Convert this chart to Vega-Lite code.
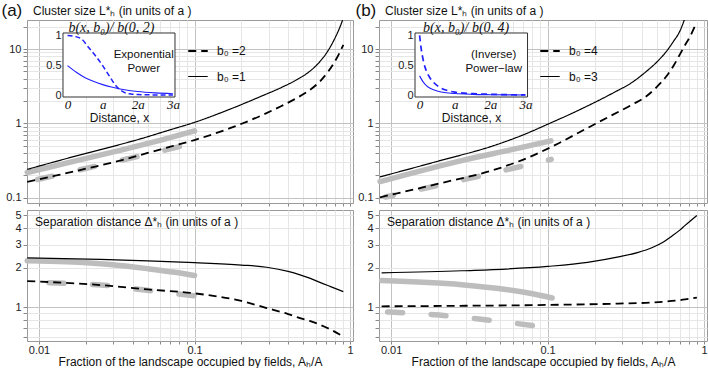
{
"$schema": "https://vega.github.io/schema/vega-lite/v6.json",
"padding": {"left": 0, "top": 0, "right": 0, "bottom": 0},
"config": {
 "font": "Liberation Sans",
 "view": {"stroke": "#9a9a9a", "strokeWidth": 1},
 "axis": {"labelFont": "Liberation Sans", "labelFontSize": 11, "labelColor": "#222", "titleFont": "Liberation Sans", "titleFontWeight": "normal", "titleColor": "#111", "tickColor": "#888", "domain": false, "labelOverlap": false, "labelFlush": false, "gridWidth": 1},
 "title": {"font": "Liberation Sans", "fontWeight": "normal", "fontSize": 12, "color": "#111", "anchor": "start", "frame": "group"},
 "legend": {"labelFont": "Liberation Sans"}
},
"datasets": {
 "aTop": [
  {"s":"b₀ =1","x":0.0084,"y":0.24},{"s":"b₀ =1","x":0.012,"y":0.295},{"s":"b₀ =1","x":0.02,"y":0.394},{"s":"b₀ =1","x":0.03,"y":0.49},{"s":"b₀ =1","x":0.046,"y":0.627},{"s":"b₀ =1","x":0.07,"y":0.82},{"s":"b₀ =1","x":0.1,"y":1.03},{"s":"b₀ =1","x":0.169,"y":1.55},{"s":"b₀ =1","x":0.277,"y":2.38},{"s":"b₀ =1","x":0.36,"y":3.02},{"s":"b₀ =1","x":0.454,"y":3.86},{"s":"b₀ =1","x":0.55,"y":5.0},{"s":"b₀ =1","x":0.641,"y":6.8},{"s":"b₀ =1","x":0.72,"y":9.4},{"s":"b₀ =1","x":0.781,"y":12.7},{"s":"b₀ =1","x":0.85,"y":18.5},{"s":"b₀ =1","x":0.906,"y":26},
  {"s":"b₀ =2","x":0.0084,"y":0.163},{"s":"b₀ =2","x":0.0127,"y":0.197},{"s":"b₀ =2","x":0.02,"y":0.245},{"s":"b₀ =2","x":0.0342,"y":0.32},{"s":"b₀ =2","x":0.05,"y":0.40},{"s":"b₀ =2","x":0.07,"y":0.485},{"s":"b₀ =2","x":0.1,"y":0.596},{"s":"b₀ =2","x":0.169,"y":0.86},{"s":"b₀ =2","x":0.277,"y":1.31},{"s":"b₀ =2","x":0.36,"y":1.7},{"s":"b₀ =2","x":0.454,"y":2.19},{"s":"b₀ =2","x":0.55,"y":2.8},{"s":"b₀ =2","x":0.641,"y":3.67},{"s":"b₀ =2","x":0.72,"y":4.9},{"s":"b₀ =2","x":0.781,"y":6.3},{"s":"b₀ =2","x":0.85,"y":8.6},{"s":"b₀ =2","x":0.906,"y":11.4},
  {"s":"grey solid","x":0.0084,"y":0.218},{"s":"grey solid","x":0.018,"y":0.32},{"s":"grey solid","x":0.0342,"y":0.44},{"s":"grey solid","x":0.06,"y":0.59},{"s":"grey solid","x":0.1,"y":0.79},
  {"s":"grey dashed","x":0.0098,"y":0.175},{"s":"grey dashed","x":0.03,"y":0.30},{"s":"grey dashed","x":0.085,"y":0.50}
 ],
 "aBot": [
  {"s":"b₀ =1","x":0.0084,"y":2.38},{"s":"b₀ =1","x":0.0247,"y":2.32},{"s":"b₀ =1","x":0.05,"y":2.26},{"s":"b₀ =1","x":0.1,"y":2.19},{"s":"b₀ =1","x":0.2,"y":2.1},{"s":"b₀ =1","x":0.291,"y":2.02},{"s":"b₀ =1","x":0.4,"y":1.88},{"s":"b₀ =1","x":0.477,"y":1.77},{"s":"b₀ =1","x":0.55,"y":1.67},{"s":"b₀ =1","x":0.64,"y":1.55},{"s":"b₀ =1","x":0.75,"y":1.44},{"s":"b₀ =1","x":0.905,"y":1.32},
  {"s":"b₀ =2","x":0.0084,"y":1.585},{"s":"b₀ =2","x":0.0247,"y":1.48},{"s":"b₀ =2","x":0.05,"y":1.37},{"s":"b₀ =2","x":0.1,"y":1.28},{"s":"b₀ =2","x":0.2,"y":1.12},{"s":"b₀ =2","x":0.291,"y":0.99},{"s":"b₀ =2","x":0.4,"y":0.89},{"s":"b₀ =2","x":0.477,"y":0.83},{"s":"b₀ =2","x":0.55,"y":0.79},{"s":"b₀ =2","x":0.64,"y":0.74},{"s":"b₀ =2","x":0.75,"y":0.68},{"s":"b₀ =2","x":0.905,"y":0.60},
  {"s":"grey solid","x":0.0084,"y":2.26},{"s":"grey solid","x":0.015,"y":2.22},{"s":"grey solid","x":0.0286,"y":2.12},{"s":"grey solid","x":0.05,"y":1.97},{"s":"grey solid","x":0.075,"y":1.85},{"s":"grey solid","x":0.1,"y":1.75},
  {"s":"grey dashed","x":0.0116,"y":1.54},{"s":"grey dashed","x":0.0251,"y":1.48},{"s":"grey dashed","x":0.048,"y":1.355},{"s":"grey dashed","x":0.102,"y":1.22}
 ],
 "bTop": [
  {"s":"b₀ =3","x":0.0085,"y":0.19},{"s":"b₀ =3","x":0.0206,"y":0.315},{"s":"b₀ =3","x":0.0452,"y":0.5},{"s":"b₀ =3","x":0.07,"y":0.7},{"s":"b₀ =3","x":0.1,"y":0.97},{"s":"b₀ =3","x":0.16,"y":1.52},{"s":"b₀ =3","x":0.262,"y":2.56},{"s":"b₀ =3","x":0.35,"y":3.6},{"s":"b₀ =3","x":0.428,"y":5.0},{"s":"b₀ =3","x":0.5,"y":6.7},{"s":"b₀ =3","x":0.575,"y":9.3},{"s":"b₀ =3","x":0.64,"y":12.8},{"s":"b₀ =3","x":0.7,"y":17.3},{"s":"b₀ =3","x":0.76,"y":27},
  {"s":"b₀ =4","x":0.0085,"y":0.101},{"s":"b₀ =4","x":0.0206,"y":0.156},{"s":"b₀ =4","x":0.0452,"y":0.235},{"s":"b₀ =4","x":0.075,"y":0.345},{"s":"b₀ =4","x":0.118,"y":0.54},{"s":"b₀ =4","x":0.16,"y":0.76},{"s":"b₀ =4","x":0.262,"y":1.31},{"s":"b₀ =4","x":0.35,"y":1.8},{"s":"b₀ =4","x":0.428,"y":2.31},{"s":"b₀ =4","x":0.5,"y":3.1},{"s":"b₀ =4","x":0.575,"y":4.3},{"s":"b₀ =4","x":0.64,"y":6.0},{"s":"b₀ =4","x":0.7,"y":8.4},{"s":"b₀ =4","x":0.76,"y":11.5},{"s":"b₀ =4","x":0.811,"y":14.5},{"s":"b₀ =4","x":0.893,"y":22.4},
  {"s":"grey solid","x":0.0085,"y":0.164},{"s":"grey solid","x":0.0291,"y":0.32},{"s":"grey solid","x":0.06,"y":0.446},{"s":"grey solid","x":0.105,"y":0.58},
  {"s":"grey dashed","x":0.00922,"y":0.102},{"s":"grey dashed","x":0.035,"y":0.19},{"s":"grey dashed","x":0.1055,"y":0.327}
 ],
 "bBot": [
  {"s":"b₀ =3","x":0.0087,"y":1.83},{"s":"b₀ =3","x":0.0282,"y":1.9},{"s":"b₀ =3","x":0.1,"y":2.05},{"s":"b₀ =3","x":0.18,"y":2.2},{"s":"b₀ =3","x":0.284,"y":2.42},{"s":"b₀ =3","x":0.38,"y":2.62},{"s":"b₀ =3","x":0.464,"y":2.84},{"s":"b₀ =3","x":0.55,"y":3.14},{"s":"b₀ =3","x":0.622,"y":3.48},{"s":"b₀ =3","x":0.7,"y":3.87},{"s":"b₀ =3","x":0.757,"y":4.2},{"s":"b₀ =3","x":0.9,"y":5.0},
  {"s":"b₀ =4","x":0.0087,"y":1.02},{"s":"b₀ =4","x":0.03,"y":1.03},{"s":"b₀ =4","x":0.1,"y":1.045},{"s":"b₀ =4","x":0.284,"y":1.07},{"s":"b₀ =4","x":0.464,"y":1.09},{"s":"b₀ =4","x":0.622,"y":1.12},{"s":"b₀ =4","x":0.757,"y":1.15},{"s":"b₀ =4","x":0.9,"y":1.19},
  {"s":"grey solid","x":0.0087,"y":1.6},{"s":"grey solid","x":0.0282,"y":1.49},{"s":"grey solid","x":0.054,"y":1.37},{"s":"grey solid","x":0.08,"y":1.27},{"s":"grey solid","x":0.107,"y":1.18},
  {"s":"grey dashed","x":0.0095,"y":0.925},{"s":"grey dashed","x":0.0203,"y":0.875},{"s":"grey dashed","x":0.0389,"y":0.81},{"s":"grey dashed","x":0.0827,"y":0.725}
 ],
 "insetA": [
  {"s":"d","x":0,"y":1.0},{"s":"d","x":0.2,"y":0.985},{"s":"d","x":0.4,"y":0.94},{"s":"d","x":0.6,"y":0.8},{"s":"d","x":0.8,"y":0.66},{"s":"d","x":1.0,"y":0.5},{"s":"d","x":1.2,"y":0.32},{"s":"d","x":1.4,"y":0.15},{"s":"d","x":1.6,"y":0.06},{"s":"d","x":1.8,"y":0.03},{"s":"d","x":2.0,"y":0.02},{"s":"d","x":2.5,"y":0.015},{"s":"d","x":3.0,"y":0.015},
  {"s":"s","x":0,"y":0.5},{"s":"s","x":0.25,"y":0.39},{"s":"s","x":0.5,"y":0.3},{"s":"s","x":0.75,"y":0.235},{"s":"s","x":1.0,"y":0.185},{"s":"s","x":1.25,"y":0.145},{"s":"s","x":1.5,"y":0.113},{"s":"s","x":1.75,"y":0.088},{"s":"s","x":2.0,"y":0.07},{"s":"s","x":2.5,"y":0.048},{"s":"s","x":3.0,"y":0.035}
 ],
 "insetB": [
  {"s":"d","x":0,"y":1.0},{"s":"d","x":0.05,"y":0.76},{"s":"d","x":0.1,"y":0.6},{"s":"d","x":0.15,"y":0.48},{"s":"d","x":0.2,"y":0.4},{"s":"d","x":0.3,"y":0.29},{"s":"d","x":0.4,"y":0.22},{"s":"d","x":0.6,"y":0.13},{"s":"d","x":0.8,"y":0.085},{"s":"d","x":1.0,"y":0.06},{"s":"d","x":1.5,"y":0.035},{"s":"d","x":2.0,"y":0.025},{"s":"d","x":2.5,"y":0.018},{"s":"d","x":3.0,"y":0.015},
  {"s":"s","x":0,"y":0.33},{"s":"s","x":0.1,"y":0.23},{"s":"s","x":0.2,"y":0.165},{"s":"s","x":0.3,"y":0.125},{"s":"s","x":0.5,"y":0.08},{"s":"s","x":0.75,"y":0.05},{"s":"s","x":1.0,"y":0.037},{"s":"s","x":1.5,"y":0.024},{"s":"s","x":2.0,"y":0.018},{"s":"s","x":3.0,"y":0.012}
 ]
},
"hconcat": [
 {"vconcat": [
  {
   "width": 326, "height": 183,
   "title": {"text": "Cluster size  L*ₕ (in units of a )", "dx": 6, "offset": -17, "frame": "group"},
   "layer": [
    {
     "data": {"name": "aTop"},
     "encoding": {
      "x": {"field": "x", "type": "quantitative", "scale": {"type": "log", "domain": [0.00837, 1.045], "nice": false},
            "axis": {"values": [0.01,0.02,0.03,0.04,0.05,0.06,0.07,0.08,0.09,0.1,0.2,0.3,0.4,0.5,0.6,0.7,0.8,0.9,1], "labels": false, "title": null, "tickSize": 3,
                     "gridColor": {"condition": {"test": "abs(log(datum.value)/LN10 - round(log(datum.value)/LN10)) < 0.0001", "value": "#c2c2c2"}, "value": "#e6e6e6"}}},
      "y": {"field": "y", "type": "quantitative", "scale": {"type": "log", "domain": [0.0846, 24.6], "nice": false},
            "axis": {"values": [0.1,0.2,0.3,0.4,0.5,0.6,0.7,0.8,0.9,1,2,3,4,5,6,7,8,9,10,20], "labelExpr": "abs(log(datum.value)/LN10 - round(log(datum.value)/LN10)) < 0.0001 ? format(datum.value, '~g') : ''", "tickSize": 4, "labelPadding": 2,
                     "gridColor": {"condition": {"test": "abs(log(datum.value)/LN10 - round(log(datum.value)/LN10)) < 0.0001", "value": "#c2c2c2"}, "value": "#e6e6e6"},
                     "title": "(a)", "titleAngle": 0, "titleX": -26, "titleY": -10, "titleAlign": "left", "titleBaseline": "middle", "titleFontSize": 17}}
     },
     "layer": [
      {"transform": [{"filter": "datum.s == 'grey solid'"}], "mark": {"type": "line", "color": "#bdbdbd", "strokeWidth": 5.5, "strokeCap": "round"}},
      {"transform": [{"filter": "datum.s == 'grey dashed'"}], "mark": {"type": "line", "color": "#bdbdbd", "strokeWidth": 5.5, "strokeCap": "round", "strokeDash": [15, 28.5]}},
      {"transform": [{"filter": "datum.s == 'b₀ =1' || datum.s == 'b₀ =2'"}], "mark": {"type": "line", "color": "black", "clip": true, "interpolate": "monotone"},
       "encoding": {
        "strokeDash": {"field": "s", "type": "nominal", "scale": {"domain": ["b₀ =2", "b₀ =1"], "range": [[8,5],[1,0]]},
                       "legend": {"orient": "none", "legendX": 160, "legendY": 20, "title": null, "symbolType": "stroke", "symbolSize": 380, "symbolStrokeWidth": 1.6, "symbolStrokeColor": "black", "labelFontSize": 12, "labelOffset": 8, "rowPadding": 9, "padding": 0, "labelColor": "#111"}},
        "strokeWidth": {"field": "s", "type": "nominal", "scale": {"domain": ["b₀ =2", "b₀ =1"], "range": [1.8, 1.2]}, "legend": null}
       }}
     ]
    },
    {
     "data": {"name": "insetA"},
     "layer": [
      {"transform": [{"filter": "datum.s == 's' && datum.x == 0"}], "mark": {"type": "rect", "fill": "white", "stroke": "#333", "strokeWidth": 1},
       "encoding": {"x": {"datum": -0.13, "type": "quantitative", "scale": {"domain": [-1.155, 8.13], "nice": false, "zero": false}}, "x2": {"datum": 3.06},
                    "y": {"datum": -0.02, "type": "quantitative", "scale": {"domain": [-1.7756, 1.2553], "nice": false, "zero": false}}, "y2": {"datum": 1.04}}},
      {"transform": [{"filter": "datum.s == 's'"}], "mark": {"type": "line", "color": "#1f1fff", "strokeWidth": 1.1, "interpolate": "monotone"},
       "encoding": {
        "x": {"field": "x", "type": "quantitative", "scale": {"domain": [-1.155, 8.13], "nice": false, "zero": false},
              "axis": {"orient": "bottom", "offset": -106, "values": [0,1,2,3], "labelExpr": "datum.value == 0 ? '0' : (datum.value == 1 ? 'a' : datum.value + 'a')", "labelFont": "Liberation Serif", "labelFontStyle": "italic", "labelFontSize": 13, "labelColor": "#111", "labelPadding": 1, "grid": false, "ticks": false, "title": "Distance, x", "titleFontSize": 12, "titleX": 92, "titleY": 20, "titleAlign": "center", "titleBaseline": "middle", "zindex": 2}},
        "y": {"field": "y", "type": "quantitative", "scale": {"domain": [-1.7756, 1.2553], "nice": false, "zero": false},
              "axis": {"orient": "left", "offset": -36, "values": [0, 0.5, 1], "format": "~g", "grid": false, "ticks": false, "labelPadding": 2, "title": null, "zindex": 2}}
       }},
      {"transform": [{"filter": "datum.s == 'd'"}], "mark": {"type": "line", "color": "#1f1fff", "strokeWidth": 1.5, "strokeDash": [5, 3], "interpolate": "monotone"},
       "encoding": {"x": {"field": "x", "type": "quantitative"}, "y": {"field": "y", "type": "quantitative"}}},
      {"transform": [{"filter": "datum.s == 's' && datum.x == 0"}], "mark": {"type": "text", "text": ["Exponential", "Power"], "fontSize": 11.5, "lineHeight": 14, "align": "center", "baseline": "middle", "color": "#111"},
       "encoding": {"x": {"datum": 2.17, "type": "quantitative"}, "y": {"datum": 0.68, "type": "quantitative"}}},
      {"transform": [{"filter": "datum.s == 's' && datum.x == 0"}], "mark": {"type": "text", "text": "b(x, b₀)/ b(0, 2)", "font": "Liberation Serif", "fontStyle": "italic", "fontSize": 14, "align": "center", "baseline": "middle", "color": "#111"},
       "encoding": {"x": {"datum": 1.25, "type": "quantitative"}, "y": {"datum": 1.12, "type": "quantitative"}}}
     ]
    }
   ],
   "resolve": {"scale": {"x": "independent", "y": "independent"}}
  },
  {
   "width": 326, "height": 131,
   "title": {"text": "Separation distance  Δ*ₕ (in units of a )", "dx": 8, "offset": -20, "frame": "group"},
   "data": {"name": "aBot"},
   "encoding": {
    "x": {"field": "x", "type": "quantitative", "scale": {"type": "log", "domain": [0.00837, 1.045], "nice": false},
          "axis": {"values": [0.01,0.02,0.03,0.04,0.05,0.06,0.07,0.08,0.09,0.1,0.2,0.3,0.4,0.5,0.6,0.7,0.8,0.9,1], "labelExpr": "abs(log(datum.value)/LN10 - round(log(datum.value)/LN10)) < 0.0001 ? format(datum.value, '~g') : ''", "tickSize": 3, "labelPadding": 0,
                   "gridColor": {"condition": {"test": "abs(log(datum.value)/LN10 - round(log(datum.value)/LN10)) < 0.0001", "value": "#c2c2c2"}, "value": "#e6e6e6"},
                   "title": "Fraction of the landscape occupied by fields,  Aₕ/A", "titleFontSize": 12, "titlePadding": 1}},
    "y": {"field": "y", "type": "quantitative", "scale": {"type": "log", "domain": [0.556, 5.5], "nice": false},
          "axis": {"values": [0.6,0.7,0.8,0.9,1,2,3,4,5], "labelExpr": "datum.value >= 1 ? format(datum.value, '~g') : ''", "tickSize": 4, "labelPadding": 2, "title": null,
                   "gridColor": {"condition": {"test": "datum.value == 1", "value": "#c2c2c2"}, "value": "#e6e6e6"}}}
   },
   "layer": [
    {"transform": [{"filter": "datum.s == 'grey solid'"}], "mark": {"type": "line", "color": "#bdbdbd", "strokeWidth": 5.5, "strokeCap": "round", "interpolate": "monotone"}},
    {"transform": [{"filter": "datum.s == 'grey dashed'"}], "mark": {"type": "line", "color": "#bdbdbd", "strokeWidth": 5.5, "strokeCap": "round", "strokeDash": [15, 28.5], "interpolate": "monotone"}},
    {"transform": [{"filter": "datum.s == 'b₀ =1'"}], "mark": {"type": "line", "color": "black", "strokeWidth": 1.2, "interpolate": "monotone"}},
    {"transform": [{"filter": "datum.s == 'b₀ =2'"}], "mark": {"type": "line", "color": "black", "strokeWidth": 1.8, "strokeDash": [8, 5], "interpolate": "monotone"}}
   ]
  }
 ], "spacing": 7, "bounds": "flush"},
 {"vconcat": [
  {
   "width": 328, "height": 183,
   "title": {"text": "Cluster size  L*ₕ (in units of a )", "dx": 6, "offset": -17, "frame": "group"},
   "layer": [
    {
     "data": {"name": "bTop"},
     "encoding": {
      "x": {"field": "x", "type": "quantitative", "scale": {"type": "log", "domain": [0.00837, 1.045], "nice": false},
            "axis": {"values": [0.01,0.02,0.03,0.04,0.05,0.06,0.07,0.08,0.09,0.1,0.2,0.3,0.4,0.5,0.6,0.7,0.8,0.9,1], "labels": false, "title": null, "tickSize": 3,
                     "gridColor": {"condition": {"test": "abs(log(datum.value)/LN10 - round(log(datum.value)/LN10)) < 0.0001", "value": "#c2c2c2"}, "value": "#e6e6e6"}}},
      "y": {"field": "y", "type": "quantitative", "scale": {"type": "log", "domain": [0.0846, 24.6], "nice": false},
            "axis": {"values": [0.1,0.2,0.3,0.4,0.5,0.6,0.7,0.8,0.9,1,2,3,4,5,6,7,8,9,10,20], "labelExpr": "abs(log(datum.value)/LN10 - round(log(datum.value)/LN10)) < 0.0001 ? format(datum.value, '~g') : ''", "tickSize": 4, "labelPadding": 2,
                     "gridColor": {"condition": {"test": "abs(log(datum.value)/LN10 - round(log(datum.value)/LN10)) < 0.0001", "value": "#c2c2c2"}, "value": "#e6e6e6"},
                     "title": "(b)", "titleAngle": 0, "titleX": -24, "titleY": -10, "titleAlign": "left", "titleBaseline": "middle", "titleFontSize": 17}}
     },
     "layer": [
      {"transform": [{"filter": "datum.s == 'grey solid'"}], "mark": {"type": "line", "color": "#bdbdbd", "strokeWidth": 5.5, "strokeCap": "round", "interpolate": "monotone"}},
      {"transform": [{"filter": "datum.s == 'grey dashed'"}], "mark": {"type": "line", "color": "#bdbdbd", "strokeWidth": 5.5, "strokeCap": "round", "strokeDash": [15, 28.5], "strokeDashOffset": 7}},
      {"transform": [{"filter": "datum.s == 'b₀ =3' || datum.s == 'b₀ =4'"}], "mark": {"type": "line", "color": "black", "clip": true, "interpolate": "monotone"},
       "encoding": {
        "strokeDash": {"field": "s", "type": "nominal", "scale": {"domain": ["b₀ =4", "b₀ =3"], "range": [[8,5],[1,0]]},
                       "legend": {"orient": "none", "legendX": 160, "legendY": 20, "title": null, "symbolType": "stroke", "symbolSize": 380, "symbolStrokeWidth": 1.6, "symbolStrokeColor": "black", "labelFontSize": 12, "labelOffset": 8, "rowPadding": 9, "padding": 0, "labelColor": "#111"}},
        "strokeWidth": {"field": "s", "type": "nominal", "scale": {"domain": ["b₀ =4", "b₀ =3"], "range": [1.8, 1.2]}, "legend": null}
       }}
     ]
    },
    {
     "data": {"name": "insetB"},
     "layer": [
      {"transform": [{"filter": "datum.s == 's' && datum.x == 0"}], "mark": {"type": "rect", "fill": "white", "stroke": "#333", "strokeWidth": 1},
       "encoding": {"x": {"datum": -0.13, "type": "quantitative", "scale": {"domain": [-1.151, 8.149], "nice": false, "zero": false}}, "x2": {"datum": 3.06},
                    "y": {"datum": -0.02, "type": "quantitative", "scale": {"domain": [-1.7756, 1.2553], "nice": false, "zero": false}}, "y2": {"datum": 1.04}}},
      {"transform": [{"filter": "datum.s == 's'"}], "mark": {"type": "line", "color": "#1f1fff", "strokeWidth": 1.1, "interpolate": "monotone"},
       "encoding": {
        "x": {"field": "x", "type": "quantitative", "scale": {"domain": [-1.151, 8.149], "nice": false, "zero": false},
              "axis": {"orient": "bottom", "offset": -106, "values": [0,1,2,3], "labelExpr": "datum.value == 0 ? '0' : (datum.value == 1 ? 'a' : datum.value + 'a')", "labelFont": "Liberation Serif", "labelFontStyle": "italic", "labelFontSize": 13, "labelColor": "#111", "labelPadding": 1, "grid": false, "ticks": false, "title": "Distance, x", "titleFontSize": 12, "titleX": 92, "titleY": 20, "titleAlign": "center", "titleBaseline": "middle", "zindex": 2}},
        "y": {"field": "y", "type": "quantitative", "scale": {"domain": [-1.7756, 1.2553], "nice": false, "zero": false},
              "axis": {"orient": "left", "offset": -36, "values": [0, 0.5, 1], "format": "~g", "grid": false, "ticks": false, "labelPadding": 2, "title": null, "zindex": 2}}
       }},
      {"transform": [{"filter": "datum.s == 'd'"}], "mark": {"type": "line", "color": "#1f1fff", "strokeWidth": 1.7, "strokeDash": [6, 4], "interpolate": "monotone"},
       "encoding": {"x": {"field": "x", "type": "quantitative"}, "y": {"field": "y", "type": "quantitative"}}},
      {"transform": [{"filter": "datum.s == 's' && datum.x == 0"}], "mark": {"type": "text", "text": ["(Inverse)", "Power−law"], "fontSize": 11.5, "lineHeight": 14, "align": "center", "baseline": "middle", "color": "#111"},
       "encoding": {"x": {"datum": 2.1, "type": "quantitative"}, "y": {"datum": 0.68, "type": "quantitative"}}},
      {"transform": [{"filter": "datum.s == 's' && datum.x == 0"}], "mark": {"type": "text", "text": "b(x, b₀)/ b(0, 4)", "font": "Liberation Serif", "fontStyle": "italic", "fontSize": 14, "align": "center", "baseline": "middle", "color": "#111"},
       "encoding": {"x": {"datum": 1.32, "type": "quantitative"}, "y": {"datum": 1.12, "type": "quantitative"}}}
     ]
    }
   ],
   "resolve": {"scale": {"x": "independent", "y": "independent"}}
  },
  {
   "width": 328, "height": 131,
   "title": {"text": "Separation distance  Δ*ₕ (in units of a )", "dx": 8, "offset": -20, "frame": "group"},
   "data": {"name": "bBot"},
   "encoding": {
    "x": {"field": "x", "type": "quantitative", "scale": {"type": "log", "domain": [0.00837, 1.045], "nice": false},
          "axis": {"values": [0.01,0.02,0.03,0.04,0.05,0.06,0.07,0.08,0.09,0.1,0.2,0.3,0.4,0.5,0.6,0.7,0.8,0.9,1], "labelExpr": "abs(log(datum.value)/LN10 - round(log(datum.value)/LN10)) < 0.0001 ? format(datum.value, '~g') : ''", "tickSize": 3, "labelPadding": 0,
                   "gridColor": {"condition": {"test": "abs(log(datum.value)/LN10 - round(log(datum.value)/LN10)) < 0.0001", "value": "#c2c2c2"}, "value": "#e6e6e6"},
                   "title": "Fraction of the landscape occupied by fields,  Aₕ/A", "titleFontSize": 12, "titlePadding": 1}},
    "y": {"field": "y", "type": "quantitative", "scale": {"type": "log", "domain": [0.556, 5.5], "nice": false},
          "axis": {"values": [0.6,0.7,0.8,0.9,1,2,3,4,5], "labelExpr": "datum.value >= 1 ? format(datum.value, '~g') : ''", "tickSize": 4, "labelPadding": 2, "title": null,
                   "gridColor": {"condition": {"test": "datum.value == 1", "value": "#c2c2c2"}, "value": "#e6e6e6"}}}
   },
   "layer": [
    {"transform": [{"filter": "datum.s == 'grey solid'"}], "mark": {"type": "line", "color": "#bdbdbd", "strokeWidth": 5.5, "strokeCap": "round", "interpolate": "monotone"}},
    {"transform": [{"filter": "datum.s == 'grey dashed'"}], "mark": {"type": "line", "color": "#bdbdbd", "strokeWidth": 5.5, "strokeCap": "round", "strokeDash": [15, 28.5], "interpolate": "monotone"}},
    {"transform": [{"filter": "datum.s == 'b₀ =3'"}], "mark": {"type": "line", "color": "black", "strokeWidth": 1.2, "interpolate": "monotone"}},
    {"transform": [{"filter": "datum.s == 'b₀ =4'"}], "mark": {"type": "line", "color": "black", "strokeWidth": 1.8, "strokeDash": [8, 5], "interpolate": "monotone"}}
   ]
  }
 ], "spacing": 7, "bounds": "flush"}
],
"spacing": 0,
"resolve": {"scale": {"strokeDash": "independent", "strokeWidth": "independent"}, "legend": {"strokeDash": "independent", "strokeWidth": "independent"}}
}
